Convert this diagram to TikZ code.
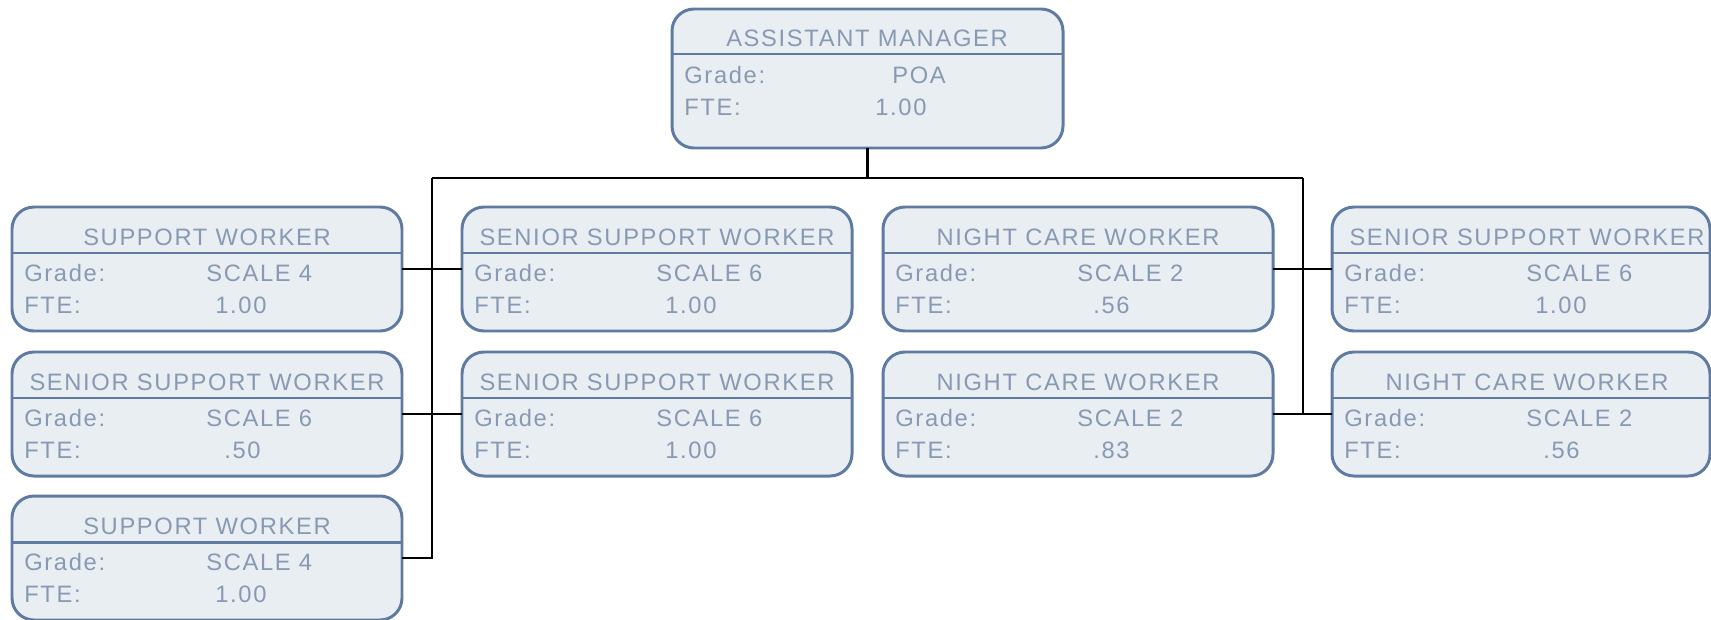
\documentclass[tikz,border=0pt]{standalone}
\usepackage{fontspec}
\setmainfont{Liberation Sans}[LetterSpace=7.0]
\usetikzlibrary{calc}

\definecolor{boxfill}{HTML}{E9EEF2}
\definecolor{boxline}{HTML}{607BA1}
\definecolor{boxtext}{HTML}{8799B3}

\tikzset{
  staffbox/.style={draw=boxline, fill=boxfill, line width=1.7pt, rounded corners=12.5pt,
    inner sep=0pt, outer sep=0pt, anchor=north west},
  boxtxt/.style={text=boxtext, inner sep=0pt, font=\fontsize{13.5}{16}\selectfont},
  link/.style={black, line width=1.6pt}
}

% #1 name, #2 left, #3 top, #4 width, #5 title, #6 grade, #7 fte, #8 fte offset
\newcommand{\staff}[8]{
  \node [staffbox, minimum width=#4*0.02cm, minimum height=124*0.02cm] (#1) at (#2,#3) {};
  \draw [boxline, line width=1.7pt] ($(#1.north west)+(0,46)$) -- ($(#1.north east)+(0,46)$);
  \node [boxtxt, anchor=base] (#1t) at (#2+195,#3+38) {#5};
  \node [boxtxt, anchor=base west] (#1g) at (#2+12,#3+74) {Grade:};
  \node [boxtxt, anchor=base west] (#1gv) at (#2+194,#3+74) {#6};
  \node [boxtxt, anchor=base west] (#1f) at (#2+12,#3+106) {FTE:};
  \node [boxtxt, anchor=base west] (#1fv) at (#2+#8,#3+106) {#7};
}

\begin{document}
\begin{tikzpicture}[x=0.02cm, y=-0.02cm]
\useasboundingbox (0,0) rectangle (1711,619);

% manager
\node [staffbox, minimum width=391*0.02cm, minimum height=139*0.02cm] (am) at (672,9) {};
\draw [boxline, line width=1.7pt] ($(am.north west)+(0,45)$) -- ($(am.north east)+(0,45)$);
\node [boxtxt, anchor=base] (amt) at (867,46) {ASSISTANT MANAGER};
\node [boxtxt, anchor=base west] (amg) at (684,83) {Grade:};
\node [boxtxt, anchor=base west] (amgv) at (892,83) {POA};
\node [boxtxt, anchor=base west] (amf) at (684,115) {FTE:};
\node [boxtxt, anchor=base west] (amfv) at (875,115) {1.00};

% staff
\staff{swa}{12}{207}{390}{SUPPORT WORKER}{SCALE 4}{1.00}{203}
\staff{ssa}{12}{352}{390}{SENIOR SUPPORT WORKER}{SCALE 6}{.50}{212}
\staff{swb}{12}{496}{390}{SUPPORT WORKER}{SCALE 4}{1.00}{203}
\staff{ssb}{462}{207}{390}{SENIOR SUPPORT WORKER}{SCALE 6}{1.00}{203}
\staff{ssc}{462}{352}{390}{SENIOR SUPPORT WORKER}{SCALE 6}{1.00}{203}
\staff{nca}{883}{207}{390}{NIGHT CARE WORKER}{SCALE 2}{.56}{210}
\staff{ncb}{883}{352}{390}{NIGHT CARE WORKER}{SCALE 2}{.83}{210}
\staff{ssd}{1332}{207}{378}{SENIOR SUPPORT WORKER}{SCALE 6}{1.00}{203}
\staff{ncc}{1332}{352}{378}{NIGHT CARE WORKER}{SCALE 2}{.56}{211}

% connectors
\coordinate (busl) at (432,178);
\coordinate (busr) at (1303,178);
\draw [link] (am.south) -- (am.south |- busl);
\draw [link] (busl) -- (busr);
\draw [link] (busl) -- (busl |- swb.east) -- (swb.east);
\draw [link] (swa.east) -- (ssb.west);
\draw [link] (ssa.east) -- (ssc.west);
\draw [link] (busr) -- (busr |- ncc.west);
\draw [link] (nca.east) -- (ssd.west);
\draw [link] (ncb.east) -- (ncc.west);
\end{tikzpicture}
\end{document}
